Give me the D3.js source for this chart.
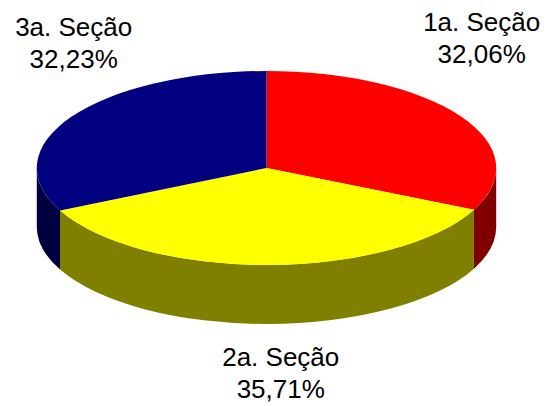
<!DOCTYPE html>
<html>
<head>
<meta charset="utf-8">
<script src="https://cdn.jsdelivr.net/npm/d3@7"></script>
<style>
  body { margin: 0; background: #fff; }
  svg text { font-family: "Liberation Sans", Arial, Helvetica, sans-serif; }
</style>
</head>
<body>
<div id="chart"></div>
<script>
    // chart data
    var sections = ["1a. Seção", "2a. Seção", "3a. Seção"],
        values = [32.06, 35.71, 32.23],
        pctLabels = ["32,06%", "35,71%", "32,23%"],
        topColors = ["#ff0000", "#ffff00", "#000080"],
        sideColors = ["#800000", "#808000", "#000040"];

    // layout of the flat 3d pie
    var w = 547,
        h = 406,
        cx = 266.5,
        cy = 168,
        rx = 229.7,
        ry = 97,
        depth = 59,
        fontSize = 26,
        lineGap = 32,
        // where each label sits relative to the rim point at the middle of its slice
        labelNudge = [[21, -78], [13, 108], [2, -74]];

    var svg = d3.select("#chart")
        .append("svg")
        .attr("width", w)
        .attr("height", h);

    var pie = d3.pie().sort(null).value(function(d) { return d; });
    var arcs = pie(values);

    // point on the rim, angle measured clockwise from 12 o'clock
    function rim(a, dy) {
        return [cx + rx * Math.sin(a), cy - ry * Math.cos(a) + (dy || 0)];
    }

    function topPath(d) {
        var p0 = rim(d.startAngle), p1 = rim(d.endAngle),
            large = (d.endAngle - d.startAngle) > Math.PI ? 1 : 0;
        return "M" + cx + "," + cy + "L" + p0 + "A" + rx + "," + ry + " 0 " + large + " 1 " + p1 + "Z";
    }

    // only the front half of the wall can be seen
    function sidePath(d) {
        var a0 = Math.max(d.startAngle, Math.PI / 2),
            a1 = Math.min(d.endAngle, Math.PI * 1.5);
        if (a1 <= a0) return null;
        var t0 = rim(a0), t1 = rim(a1), b0 = rim(a0, depth), b1 = rim(a1, depth);
        return "M" + t0 + "A" + rx + "," + ry + " 0 0 1 " + t1 +
            "L" + b1 + "A" + rx + "," + ry + " 0 0 0 " + b0 + "Z";
    }

    svg.selectAll("path.side")
        .data(arcs.filter(function(d) { return sidePath(d) !== null; }))
        .enter().append("path")
        .attr("class", "side")
        .attr("d", sidePath)
        .style("fill", function(d) { return sideColors[d.index]; });

    svg.selectAll("path.top")
        .data(arcs)
        .enter().append("path")
        .attr("class", "top")
        .attr("d", topPath)
        .style("fill", function(d) { return topColors[d.index]; });

    var labels = svg.selectAll("text.lbl")
        .data(arcs)
        .enter().append("text")
        .attr("class", "lbl")
        .attr("text-anchor", "middle")
        .style("font-size", fontSize + "px")
        .style("fill", "#000");

    labels.each(function(d) {
        var mid = (d.startAngle + d.endAngle) / 2,
            p = rim(mid),
            x = p[0] + labelNudge[d.index][0],
            y = p[1] + labelNudge[d.index][1];
        var t = d3.select(this);
        t.append("tspan").attr("x", x).attr("y", y - 7).text(sections[d.index]);
        t.append("tspan").attr("x", x).attr("y", y - 7 + lineGap).text(pctLabels[d.index]);
    });
</script>
</body>
</html>
